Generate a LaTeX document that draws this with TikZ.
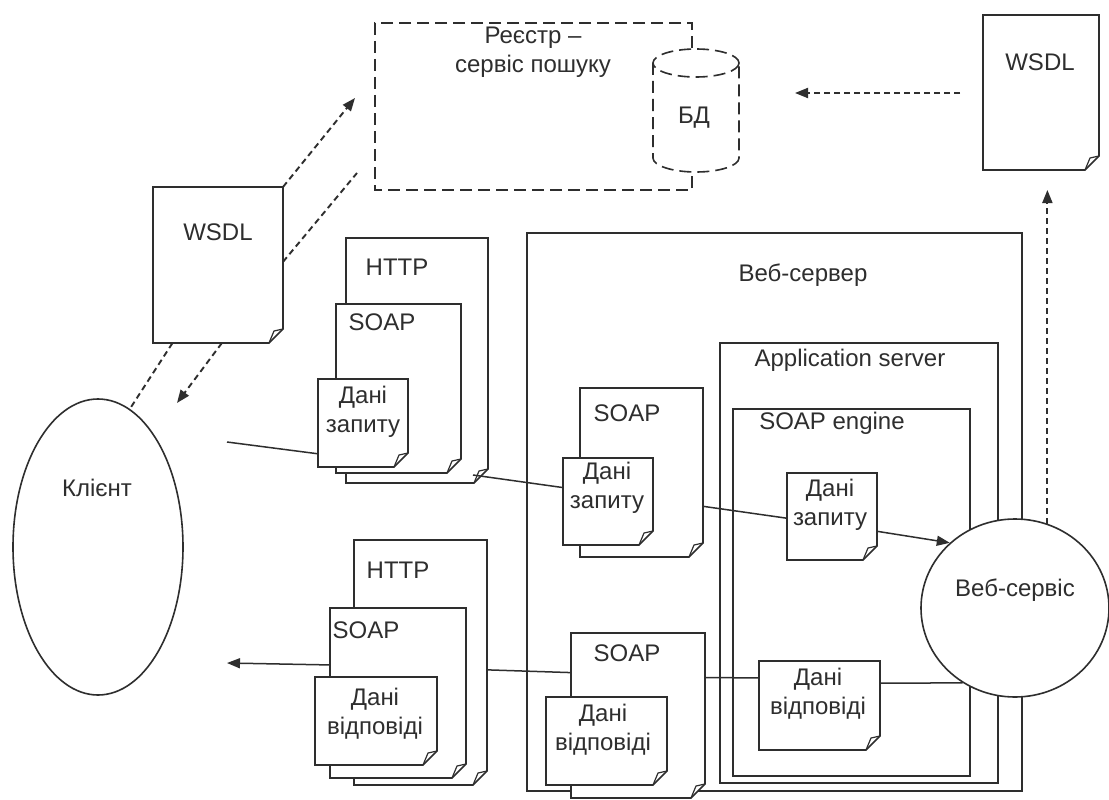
\documentclass[tikz,border=0pt]{standalone}
\usepackage{fontspec}
\setmainfont{Liberation Sans}
\usetikzlibrary{fit,calc,arrows.meta,shapes.geometric}
\definecolor{ln}{HTML}{2E2E2E}
\newcommand\docbox[5]{%
  \coordinate (#1-a) at (#2,#3);
  \coordinate (#1-b) at (#4,#5);
  \node[fit=(#1-a)(#1-b), inner sep=0pt, outer sep=0pt] (#1) {};
  \path[docline] (#1.north west) -- (#1.north east) -- ([yshift=14pt]#1.south east)
    -- ([xshift=-14pt]#1.south east) -- (#1.south west) -- cycle;
  \draw[line width=1.2pt, line join=round] ([xshift=-14pt]#1.south east)
    -- ([xshift=-9pt,yshift=12pt]#1.south east) -- ([yshift=14pt]#1.south east);
}
\begin{document}
\begin{tikzpicture}[x=1pt,y=-1pt,color=ln,
  txt/.style={font=\fontsize{24}{29}\selectfont, align=center, inner sep=0pt, text=ln},
  frame/.style={draw, line width=1.6pt},
  docline/.style={draw, fill=white, line width=1.6pt},
  dsh/.style={dash pattern=on 6pt off 4pt, line width=1.9pt},
  regdash/.style={dash pattern=on 12pt off 6pt, line width=1.6pt},
  arr/.style={-{Triangle[length=13pt,width=10pt]}},
  conn/.style={line width=1.5pt}]
\useasboundingbox (0,0) rectangle (1109,800);
\fill[white] (0,0) rectangle (1109,800);

% registry
\draw[regdash] (692,48) -- (692,23) -- (375,23) -- (375,190) -- (692,190) -- (692,172);
\draw[regdash] (696,63) ellipse [x radius=43, y radius=14];
\draw[regdash] (653,63) -- (653,158) .. controls (653,165.7) and (672.3,172) .. (696,172)
  .. controls (719.7,172) and (739,165.7) .. (739,158) -- (739,63);
\node[txt] (regt) at (533,52) {Реєстр –\\сервіс пошуку};
\node[txt] (db) at (694,118) {БД};

% WSDL documents
\docbox{wsdl1}{983}{15}{1099}{170}
\node[txt] (wt1) at (1040,62) {WSDL};
\docbox{wsdl2}{153}{187}{283}{343}
\node[txt] (wt2) at (218,232) {WSDL};

% client
\node[draw, ellipse, line width=1.6pt, minimum width=170pt, minimum height=296pt, inner sep=0pt] (cl) at (98,547) {};
\node[txt] (clt) at (97,488) {Клієнт};

% upper request stack
\docbox{http1}{346}{238}{488}{483}
\node[txt] (ht1) at (397,267) {HTTP};
\docbox{soap1}{336}{304}{461}{473}
\node[txt] (st1) at (382,322) {SOAP};
\docbox{rq1}{318}{379}{408}{467}
\node[txt] (qt1) at (363,412) {Дані\\запиту};

% frames
\draw[frame] (527,233) rectangle (1022,791);
\node[txt] (wst) at (803,275) {Веб-сервер};
\draw[frame] (720,343) rectangle (998,783);
\node[txt] (ast) at (850,360) {Application server};
\draw[frame] (733,409) rectangle (970,776);
\node[txt] (set) at (832,423) {SOAP engine};

% web server docs
\docbox{soap2}{580}{388}{703}{557}
\node[txt] (st2) at (627,413) {SOAP};
\docbox{rq2}{563}{458}{653}{545}
\node[txt] (qt2) at (607,488) {Дані\\запиту};
\docbox{rq3}{787}{473}{877}{560}
\node[txt] (qt3) at (830,505) {Дані\\запиту};
\docbox{rs3}{759}{661}{880}{750}
\node[txt] (pt3) at (818,694) {Дані\\відповіді};
\docbox{soap3}{571}{633}{705}{798}
\node[txt] (st3) at (627,653) {SOAP};
\docbox{rs2}{546}{697}{667}{785}
\node[txt] (pt2) at (603,730) {Дані\\відповіді};

% lower response stack
\docbox{http4}{354}{540}{487}{785}
\node[txt] (ht4) at (398,570) {HTTP};
\docbox{soap4}{330}{608}{466}{778}
\node[txt] (st4) at (366,630) {SOAP};
\docbox{rs1}{315}{677}{437}{765}
\node[txt] (pt1) at (375,714) {Дані\\відповіді};

% web service
\node[draw, fill=white, ellipse, line width=1.6pt, minimum width=188pt, minimum height=178pt, inner sep=0pt] (ws) at (1015,608) {};
\node[txt] (wsx) at (1015,590) {Веб-сервіс};

% coordinates for free ends
\coordinate (q0) at (227,442);
\coordinate (r0) at (227,663);
\coordinate (w1) at (355,98);
\coordinate (w2) at (357,173);
\coordinate (w3) at (177,403);
\coordinate (w4) at (960,93);
\coordinate (w5) at (795,93);
\coordinate (w7) at (1047,190);

% request flow
\draw[conn] (q0) -- ($(rq1.north west)!0.85!(rq1.south west)$);
\draw[conn] ([xshift=-15pt,yshift=8pt]http1.south east) -- ($(rq2.north west)!0.34!(rq2.south west)$);
\draw[conn] ($(soap2.north east)!0.70!(soap2.south east)$) -- ($(rq3.north west)!0.52!(rq3.south west)$);
\draw[conn,arr] ($(rq3.north east)!0.67!(rq3.south east)$) -- (ws.135);

% response flow
\draw[conn] (ws.235) -- ($(rs3.north east)!0.25!(rs3.south east)$);
\draw[conn] ($(rs3.north west)!0.19!(rs3.south west)$) -- ($(soap3.north east)!0.27!(soap3.south east)$);
\draw[conn] ($(soap3.north west)!0.24!(soap3.south west)$) -- ($(http4.north east)!0.53!(http4.south east)$);
\draw[conn,arr] ($(soap4.north west)!0.335!(soap4.south west)$) -- (r0);

% dashed links
\draw[dsh,arr] (wsdl2.north east) -- (w1);
\draw[dsh] ($(wsdl2.north east)!0.48!(wsdl2.south east)$) -- (w2);
\draw[dsh] ($(wsdl2.south west)!0.15!(wsdl2.south east)$) -- (cl.77);
\draw[dsh,arr] ($(wsdl2.south west)!0.53!(wsdl2.south east)$) -- (w3);
\draw[dsh,arr] (w4) -- (w5);
\draw[dsh,arr] (ws.69) -- (ws.69 |- w7);
\end{tikzpicture}
\end{document}
